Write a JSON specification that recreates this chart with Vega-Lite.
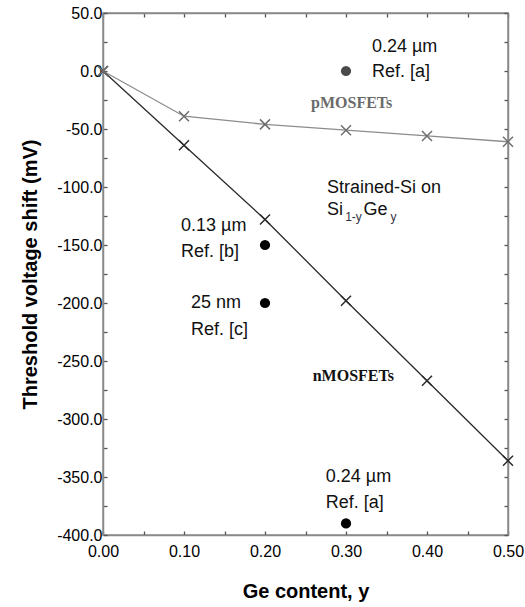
{
  "$schema": "https://vega.github.io/schema/vega-lite/v6.json",
  "width": 405,
  "height": 522,
  "autosize": "none",
  "padding": {"left": 103, "top": 13, "right": 17, "bottom": 72},
  "background": "white",
  "config": {
    "view": {"stroke": "#8a8a8a", "strokeWidth": 1.5},
    "font": "Liberation Sans",
    "axis": {
      "grid": false,
      "domainColor": "#8a8a8a",
      "domainWidth": 1.5,
      "tickColor": "#555555",
      "tickWidth": 1.3,
      "tickSize": -4,
      "labelFont": "Liberation Sans",
      "labelFontSize": 16,
      "labelColor": "#000000",
      "titleFont": "Liberation Sans",
      "titleFontSize": 20,
      "titleFontWeight": "bold",
      "titleColor": "#000000"
    }
  },
  "datasets": {
    "lines": [
      {"series": "n", "x": 0.0, "y": 0},
      {"series": "n", "x": 0.1, "y": -64},
      {"series": "n", "x": 0.2, "y": -128},
      {"series": "n", "x": 0.3, "y": -198},
      {"series": "n", "x": 0.4, "y": -267},
      {"series": "n", "x": 0.5, "y": -336},
      {"series": "p", "x": 0.0, "y": 0},
      {"series": "p", "x": 0.1, "y": -39},
      {"series": "p", "x": 0.2, "y": -46},
      {"series": "p", "x": 0.3, "y": -51},
      {"series": "p", "x": 0.4, "y": -56},
      {"series": "p", "x": 0.5, "y": -61}
    ],
    "dots": [
      {"ref": "a-p", "x": 0.3, "y": 0},
      {"ref": "b", "x": 0.2, "y": -150},
      {"ref": "c", "x": 0.2, "y": -200},
      {"ref": "a-n", "x": 0.3, "y": -390}
    ],
    "labels": [
      {"t": "0.24 µm", "x": 0.332, "y": 21},
      {"t": "Ref. [a]", "x": 0.332, "y": -1},
      {"t": "Strained-Si on", "x": 0.2765, "y": -101},
      {"t": "Si", "x": 0.2765, "y": -120},
      {"t": "Ge", "x": 0.3215, "y": -120},
      {"t": "0.13 µm", "x": 0.0963, "y": -134},
      {"t": "Ref. [b]", "x": 0.0963, "y": -156},
      {"t": "25 nm", "x": 0.1086, "y": -200},
      {"t": "Ref. [c]", "x": 0.1086, "y": -223},
      {"t": "0.24 µm", "x": 0.275, "y": -350},
      {"t": "Ref. [a]", "x": 0.275, "y": -372}
    ],
    "subs": [
      {"t": "1-y", "x": 0.299, "y": -126},
      {"t": "y", "x": 0.355, "y": -126}
    ],
    "devices": [
      {"t": "pMOSFETs", "dev": "p", "x": 0.307, "y": -28},
      {"t": "nMOSFETs", "dev": "n", "x": 0.309, "y": -263}
    ]
  },
  "layer": [
    {
      "data": {"name": "lines"},
      "mark": {"type": "line", "strokeWidth": 1.3},
      "encoding": {
        "x": {
          "field": "x", "type": "quantitative",
          "scale": {"domain": [0, 0.5], "nice": false, "zero": false},
          "axis": {
            "orient": "bottom",
            "values": [0, 0.05, 0.1, 0.15, 0.2, 0.25, 0.3, 0.35, 0.4, 0.45, 0.5],
            "labelExpr": "round(datum.value*20)%2==0 ? format(datum.value,'.2f') : ''",
            "labelPadding": 12,
            "labelFlush": false,
            "labelOverlap": false,
            "title": "Ge content, y",
            "titlePadding": 22
          }
        },
        "y": {
          "field": "y", "type": "quantitative",
          "scale": {"domain": [-400, 50], "nice": false, "zero": false},
          "axis": {
            "orient": "left",
            "values": [-400, -375, -350, -325, -300, -275, -250, -225, -200, -175, -150, -125, -100, -75, -50, -25, 0, 25, 50],
            "labelExpr": "round(datum.value)%50==0 ? replace(format(datum.value,'.1f'), '\u2212', '-') : ''",
            "labelPadding": 5,
            "labelFlush": false,
            "labelOverlap": false,
            "title": "Threshold voltage shift (mV)",
            "titlePadding": 16
          }
        },
        "color": {
          "field": "series", "type": "nominal",
          "scale": {"domain": ["n", "p"], "range": ["#2a2a2a", "#8c8c8c"]},
          "legend": null
        }
      }
    },
    {
      "data": {"name": "lines"},
      "mark": {"type": "point", "shape": "M-1,-1L1,1M-1,1L1,-1", "filled": false, "size": 100, "strokeWidth": 1.5, "opacity": 1},
      "encoding": {
        "x": {
          "field": "x", "type": "quantitative",
          "axis": {
            "orient": "top",
            "values": [0, 0.05, 0.1, 0.15, 0.2, 0.25, 0.3, 0.35, 0.4, 0.45, 0.5],
            "labels": false,
            "title": null
          }
        },
        "y": {
          "field": "y", "type": "quantitative",
          "axis": {
            "orient": "right",
            "values": [-400, -375, -350, -325, -300, -275, -250, -225, -200, -175, -150, -125, -100, -75, -50, -25, 0, 25, 50],
            "labels": false,
            "title": null
          }
        },
        "color": {
          "field": "series", "type": "nominal",
          "scale": {"domain": ["n", "p"], "range": ["#2a2a2a", "#6e6e6e"]},
          "legend": null
        }
      }
    },
    {
      "data": {"name": "dots"},
      "mark": {"type": "circle", "size": 105, "opacity": 1},
      "encoding": {
        "x": {"field": "x", "type": "quantitative", "axis": null},
        "y": {"field": "y", "type": "quantitative", "axis": null},
        "fill": {
          "field": "ref", "type": "nominal",
          "scale": {"domain": ["a-p", "b", "c", "a-n"], "range": ["#4a4a4a", "#000000", "#000000", "#000000"]},
          "legend": null
        }
      }
    },
    {
      "data": {"name": "labels"},
      "mark": {"type": "text", "align": "left", "baseline": "middle", "fontSize": 18, "font": "Liberation Sans", "color": "#111111"},
      "encoding": {
        "x": {"field": "x", "type": "quantitative", "axis": null},
        "y": {"field": "y", "type": "quantitative", "axis": null},
        "text": {"field": "t"}
      }
    },
    {
      "data": {"name": "subs"},
      "mark": {"type": "text", "align": "left", "baseline": "middle", "fontSize": 12, "font": "Liberation Sans", "color": "#333344"},
      "encoding": {
        "x": {"field": "x", "type": "quantitative", "axis": null},
        "y": {"field": "y", "type": "quantitative", "axis": null},
        "text": {"field": "t"}
      }
    },
    {
      "data": {"name": "devices"},
      "mark": {"type": "text", "align": "center", "baseline": "middle", "fontSize": 16, "font": "Liberation Serif", "fontWeight": "bold"},
      "encoding": {
        "x": {"field": "x", "type": "quantitative", "axis": null},
        "y": {"field": "y", "type": "quantitative", "axis": null},
        "text": {"field": "t"},
        "color": {
          "field": "dev", "type": "nominal",
          "scale": {"domain": ["p", "n"], "range": ["#6a6a6a", "#111111"]},
          "legend": null
        }
      }
    }
  ],
  "resolve": {"axis": {"x": "independent", "y": "independent"}, "scale": {"color": "independent"}}
}
